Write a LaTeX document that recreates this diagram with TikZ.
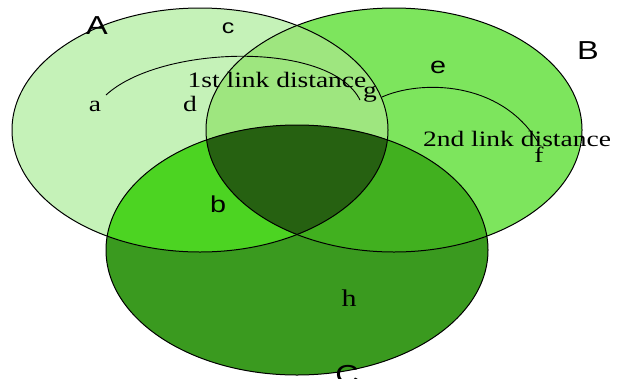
\documentclass[tikz,border=0pt]{standalone}
\usepackage{graphicx}
\usepackage{fontspec}
\setmainfont{Liberation Serif}
\newfontfamily\lsans{Liberation Sans}
\definecolor{colA}{HTML}{C5F2B8}
\definecolor{colB}{HTML}{7DE55D}
\definecolor{colAB}{HTML}{9EE67F}
\definecolor{colC}{HTML}{3A9A1F}
\definecolor{colAC}{HTML}{4CD422}
\definecolor{colBC}{HTML}{41B01F}
\definecolor{colABC}{HTML}{266111}
\tikzset{
  outline/.style={draw=black, line width=1pt},
  linkarc/.style={draw=black, line width=0.9pt},
  serifl/.style={anchor=base, inner sep=0pt, font=\fontsize{22}{22}\selectfont},
  sansl/.style={anchor=base, inner sep=0pt, font=\lsans\fontsize{26}{26}\selectfont},
  sanss/.style={anchor=base, inner sep=0pt, font=\lsans\fontsize{23}{23}\selectfont},
}
\newcommand{\hs}[1]{\scalebox{1.25}[1]{#1}}
\def\cirA{(200,130) ellipse [x radius=188pt, y radius=122pt]}
\def\cirB{(394,130) ellipse [x radius=188pt, y radius=122pt]}
\def\cirC{(297,250) ellipse [x radius=191pt, y radius=125pt]}
\begin{document}
\begin{tikzpicture}[x=1pt,y=-1pt]
\useasboundingbox (0,0) rectangle (620,378);
\fill[white] (0,0) rectangle (620,378);
% fills
\fill[colA] \cirA;
\fill[colB] \cirB;
\begin{scope}
  \clip \cirA;
  \fill[colAB] \cirB;
\end{scope}
\fill[colC] \cirC;
\begin{scope}
  \clip \cirA;
  \fill[colAC] \cirC;
\end{scope}
\begin{scope}
  \clip \cirB;
  \fill[colBC] \cirC;
\end{scope}
\begin{scope}
  \clip \cirA;
  \clip \cirB;
  \fill[colABC] \cirC;
\end{scope}
% outlines
\draw[outline] \cirA;
\draw[outline] \cirB;
\draw[outline] \cirC;
% link arcs
\coordinate (a1) at (106,95);
\coordinate (g1) at (360,100);
\coordinate (g2) at (382,97);
\coordinate (f1) at (538,142);
\draw[linkarc] (a1) .. controls (160,45) and (330,40) .. (g1);
\draw[linkarc] (g2) .. controls (420,80) and (500,80) .. (f1);
% labels
\node[sansl] (lA) at (97,34) {\hs{A}};
\node[sansl] (lB) at (588,59) {\hs{B}};
\node[sansl] (lC) at (347,383) {\hs{C}};
\node[sanss, font=\lsans\fontsize{20}{20}\selectfont] (lc) at (228,33) {\hs{c}};
\node[sanss] (le) at (438,73) {\hs{e}};
\node[sanss] (lb) at (218,212) {\hs{b}};
\node[serifl] (la) at (95,111) {\hs{a}};
\node[serifl] (ld) at (190,111) {\hs{d}};
\node[serifl] (lg) at (370,97) {\hs{g}};
\node[serifl] (lf) at (539,162) {\hs{f}};
\node[serifl, font=\fontsize{24}{24}\selectfont] (lh) at (349,306) {\hs{h}};
\node[serifl] (l1) at (277,87) {\hs{1st link distance}};
\node[serifl] (l2) at (517,146) {\hs{2nd link distance}};
\end{tikzpicture}
\end{document}
